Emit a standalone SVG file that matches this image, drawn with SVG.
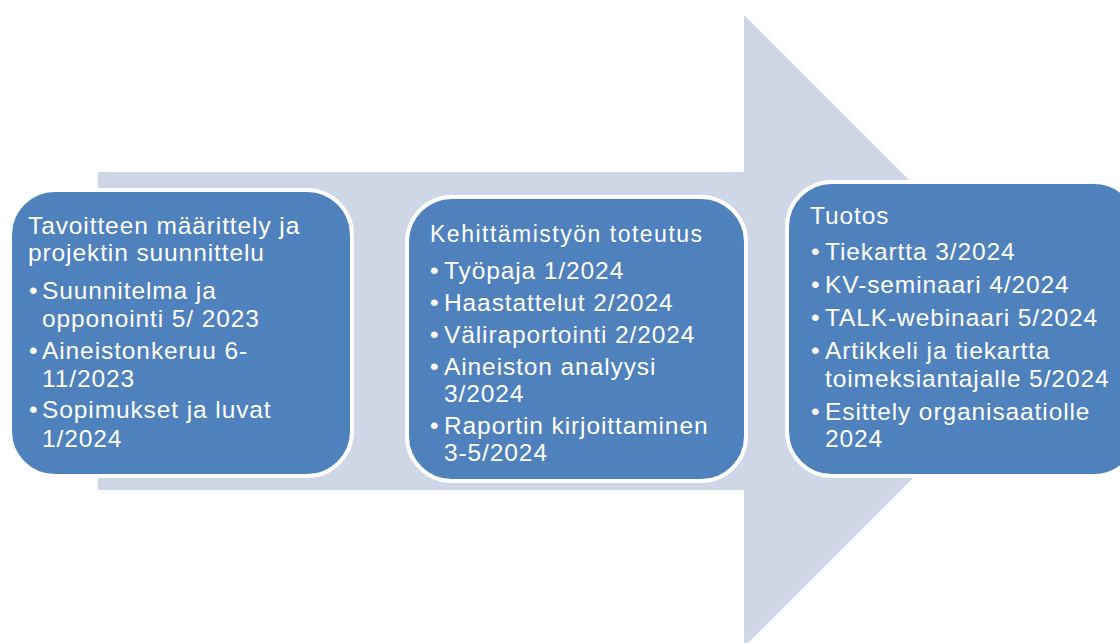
<svg xmlns="http://www.w3.org/2000/svg" width="1120" height="643" viewBox="0 0 1120 643">
<style>
.box{fill:#4F81BD;stroke:#FFFFFF;stroke-width:4}
.arrow{fill:#CFD6E6}
text{font-family:"Liberation Sans",Arial,sans-serif;fill:#FFFFFF}
.t{font-size:24.5px;letter-spacing:0.9px}
.t2{font-size:23px;letter-spacing:1.5px}
</style>
<rect width="1120" height="643" fill="#FFFFFF"/>
<g id="connectors">
<polygon class="arrow" points="98,172 744,172 744,15 1060,331 744,647 744,490 98,490"/>
</g>
<g id="node-suunnittelu">
<rect class="box" x="10" y="190" width="342" height="286" rx="45" ry="45"/>
<text class="t" x="28" y="234">Tavoitteen määrittely ja</text>
<text class="t" x="28" y="261">projektin suunnittelu</text>
<text class="t" x="29" y="299">•</text><text class="t" x="42" y="299">Suunnitelma ja</text>
<text class="t" x="42" y="327">opponointi 5/ 2023</text>
<text class="t" x="29" y="359">•</text><text class="t" x="42" y="359">Aineistonkeruu 6-</text>
<text class="t" x="42" y="387">11/2023</text>
<text class="t" x="29" y="418">•</text><text class="t" x="42" y="418">Sopimukset ja luvat</text>
<text class="t" x="42" y="447">1/2024</text>
</g>
<g id="node-toteutus">
<rect class="box" x="407" y="197" width="339" height="284" rx="45" ry="45"/>
<text class="t2" x="430" y="242">Kehittämistyön toteutus</text>
<text class="t" x="430" y="279">•</text><text class="t" x="444" y="279">Työpaja 1/2024</text>
<text class="t" x="430" y="311">•</text><text class="t" x="444" y="311">Haastattelut 2/2024</text>
<text class="t" x="430" y="343">•</text><text class="t" x="444" y="343">Väliraportointi 2/2024</text>
<text class="t" x="430" y="375">•</text><text class="t" x="444" y="375">Aineiston analyysi</text>
<text class="t" x="444" y="402">3/2024</text>
<text class="t" x="430" y="434">•</text><text class="t" x="444" y="434">Raportin kirjoittaminen</text>
<text class="t" x="444" y="461">3-5/2024</text>
</g>
<g id="node-tuotos">
<rect class="box" x="787" y="182" width="352" height="294" rx="45" ry="45"/>
<text class="t" x="810" y="224">Tuotos</text>
<text class="t" x="811" y="260">•</text><text class="t" x="825" y="260">Tiekartta 3/2024</text>
<text class="t" x="811" y="293">•</text><text class="t" x="825" y="293">KV-seminaari 4/2024</text>
<text class="t" x="811" y="326">•</text><text class="t" x="825" y="326">TALK-webinaari 5/2024</text>
<text class="t" x="811" y="359">•</text><text class="t" x="825" y="359">Artikkeli ja tiekartta</text>
<text class="t" x="825" y="386.5">toimeksiantajalle 5/2024</text>
<text class="t" x="811" y="420">•</text><text class="t" x="825" y="420">Esittely organisaatiolle</text>
<text class="t" x="825" y="446.5">2024</text>
</g>
</svg>
